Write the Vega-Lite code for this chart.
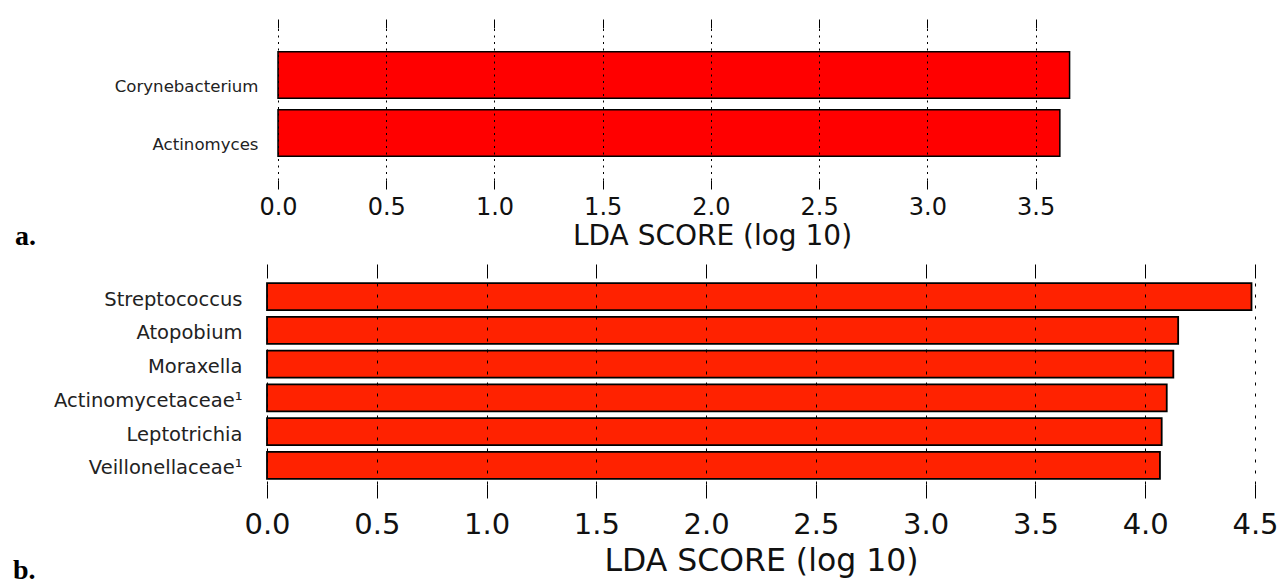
{
  "$schema": "https://vega.github.io/schema/vega-lite/v6.json",
  "background": "white",
  "padding": {"left": 13, "top": 18, "right": 5, "bottom": 0},
  "bounds": "flush",
  "spacing": 98,
  "config": {"view": {"stroke": null}, "font": "DejaVu Sans"},
  "datasets": {
    "a": [
      {"taxon": "Corynebacterium", "score": 3.657},
      {"taxon": "Actinomyces", "score": 3.612}
    ],
    "b": [
      {"taxon": "Streptococcus", "score": 4.484},
      {"taxon": "Atopobium", "score": 4.15},
      {"taxon": "Moraxella", "score": 4.128},
      {"taxon": "Actinomycetaceae¹", "score": 4.098},
      {"taxon": "Leptotrichia", "score": 4.075},
      {"taxon": "Veillonellaceae¹", "score": 4.067}
    ]
  },
  "vconcat": [
    {
      "width": 890,
      "height": 152,
      "title": {"text": "a.", "orient": "bottom", "anchor": "start", "frame": "group", "font": "Liberation Serif", "fontSize": 28, "fontWeight": "bold", "baseline": "alphabetic", "dx": -252, "offset": -5, "color": "black"},
      "data": {"name": "a"},
      "encoding": {
        "y": {"field": "taxon", "type": "nominal", "sort": null,
          "scale": {"paddingInner": 0.2, "paddingOuter": 0.41},
          "axis": {"title": null, "domain": false, "ticks": false, "labelFontSize": 16.6, "labelPadding": 9, "labelOffset": 12, "labelLimit": 400, "labelColor": "#222", "labelFont": "DejaVu Sans"}}
      },
      "layer": [
        {
          "mark": {"type": "bar", "opacity": 0},
          "encoding": {
            "x": {"field": "score", "type": "quantitative",
              "scale": {"domain": [0, 4.01], "range": [11, 879], "nice": false, "zero": false},
              "axis": {"orient": "top", "values": [0, 0.5, 1, 1.5, 2, 2.5, 3, 3.5], "labels": false, "domain": false, "grid": false, "ticks": true, "tickSize": 9, "tickColor": "black", "tickWidth": 1, "title": null}}
          }
        },
        {
          "mark": {"type": "bar", "fill": "#ff0000", "stroke": "black", "strokeWidth": 1.5},
          "encoding": {
            "x": {"field": "score", "type": "quantitative",
              "scale": {"domain": [0, 4.01], "range": [11, 879], "nice": false, "zero": false},
              "axis": {"orient": "bottom", "values": [0, 0.5, 1, 1.5, 2, 2.5, 3, 3.5], "format": ".1f", "domain": false,
                "grid": true, "gridColor": "black", "gridDash": [2, 4.5], "gridWidth": 1, "gridOpacity": 1,
                "ticks": true, "tickSize": 9, "tickColor": "black", "tickWidth": 1,
                "labelFontSize": 24, "labelPadding": 6, "labelColor": "#111", "labelFont": "DejaVu Sans", "labelFlush": false, "labelOverlap": false,
                "title": "LDA SCORE (log 10)", "titleFont": "DejaVu Sans", "titleFontSize": 28, "titleFontWeight": "normal", "titlePadding": 3, "titleColor": "#111",
                "zindex": 1}}
          }
        }
      ],
      "resolve": {"axis": {"x": "independent"}}
    },
    {
      "width": 988,
      "height": 206,
      "title": {"text": "b.", "orient": "bottom", "anchor": "start", "frame": "group", "font": "Liberation Serif", "fontSize": 28, "fontWeight": "bold", "baseline": "alphabetic", "dx": -254, "offset": 2, "color": "black"},
      "data": {"name": "b"},
      "encoding": {
        "y": {"field": "taxon", "type": "nominal", "sort": null,
          "scale": {"paddingInner": 0.196, "paddingOuter": 0.15},
          "axis": {"title": null, "domain": false, "ticks": false, "labelFontSize": 19.5, "labelPadding": 25, "labelOffset": 3, "labelLimit": 400, "labelColor": "#222", "labelFont": "DejaVu Sans"}}
      },
      "layer": [
        {
          "mark": {"type": "bar", "opacity": 0},
          "encoding": {
            "x": {"field": "score", "type": "quantitative",
              "scale": {"domain": [0, 4.5], "nice": false, "zero": false},
              "axis": {"orient": "top", "values": [0, 0.5, 1, 1.5, 2, 2.5, 3, 3.5, 4, 4.5], "labels": false, "domain": false, "grid": false, "ticks": true, "tickSize": 14, "tickColor": "black", "tickWidth": 1, "title": null}}
          }
        },
        {
          "mark": {"type": "bar", "fill": "#ff2200", "stroke": "black", "strokeWidth": 1.8},
          "encoding": {
            "x": {"field": "score", "type": "quantitative",
              "scale": {"domain": [0, 4.5], "nice": false, "zero": false},
              "axis": {"orient": "bottom", "values": [0, 0.5, 1, 1.5, 2, 2.5, 3, 3.5, 4, 4.5], "format": ".1f", "domain": false,
                "grid": true, "gridColor": "black", "gridDash": [3, 8], "gridWidth": 1, "gridOpacity": 1,
                "ticks": true, "tickSize": 14, "tickColor": "black", "tickWidth": 1,
                "labelFontSize": 29, "labelPadding": 12, "labelColor": "#111", "labelFont": "DejaVu Sans", "labelFlush": false, "labelOverlap": false,
                "title": "LDA SCORE (log 10)", "titleFont": "DejaVu Sans", "titleFontSize": 31.5, "titleFontWeight": "normal", "titlePadding": 6, "titleColor": "#111",
                "zindex": 1}}
          }
        }
      ],
      "resolve": {"axis": {"x": "independent"}}
    }
  ]
}
